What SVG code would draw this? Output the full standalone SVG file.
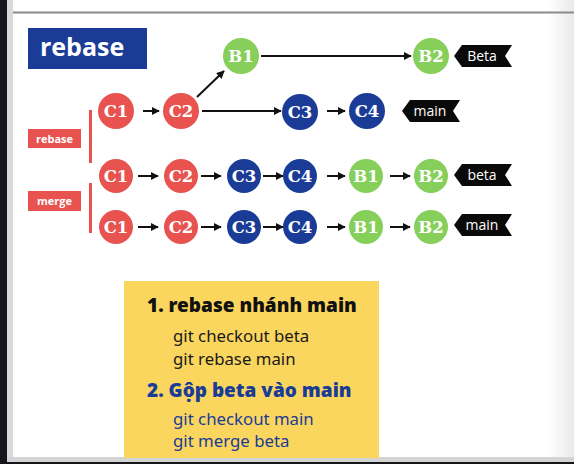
<svg xmlns="http://www.w3.org/2000/svg" width="574" height="464" viewBox="0 0 574 464">
<defs>
<marker id="ah" viewBox="0 0 10 10" refX="9" refY="5" markerWidth="4" markerHeight="4" orient="auto" markerUnits="strokeWidth"><path d="M0,0 L10,5 L0,10 z" fill="#111"/></marker>
<linearGradient id="rg" x1="0" x2="1" y1="0" y2="0"><stop offset="0" stop-color="#fff"/><stop offset="1" stop-color="#e9e9e9"/></linearGradient>
<style>
.r{fill:#e8524f}.b{fill:#1b3c96}.g{fill:#86cf5a}
.nt{font-family:"DejaVu Serif","Liberation Serif",serif;font-weight:bold;font-size:16.5px;fill:#fff;text-anchor:middle}
.tag{fill:#0a0a0a}
.tt{font-family:"Open Sans","Noto Sans",sans-serif;font-size:14px;fill:#fff;text-anchor:middle}
.lbl{font-family:"Open Sans","Noto Sans",sans-serif;font-weight:bold;font-size:11px;fill:#fff;text-anchor:middle}
.con line{stroke:#111;stroke-width:2;marker-end:url(#ah)}
.cmd{font-family:"Noto Sans","Open Sans",sans-serif;font-size:16.8px}
.hd{font-family:"Noto Sans","Open Sans",sans-serif;font-weight:900;font-size:19px}
</style>
</defs>
<rect width="574" height="464" fill="#fff"/>
<rect x="548" y="0" width="26" height="464" fill="url(#rg)"/>
<rect x="0" y="0" width="7" height="464" fill="#15161a"/>
<rect x="7" y="0" width="6" height="464" fill="#d9d9d9"/>
<line x1="13" y1="12.5" x2="574" y2="12.5" stroke="#8a8a8a" stroke-width="2"/>
<rect x="7" y="457" width="567" height="5" fill="#d4d4d4"/>
<rect x="0" y="462" width="574" height="2" fill="#15161a"/>

<g id="title"><rect x="28" y="28" width="119" height="41" fill="#1b3c96"/><text x="40" y="56" font-family="Open Sans,Noto Sans,sans-serif" font-weight="bold" font-size="25" fill="#fff">rebase</text></g>
<g id="lbl-rebase"><rect x="28" y="129" width="53" height="19" fill="#e8524f"/><text class="lbl" x="54.5" y="142.5">rebase</text></g>
<g id="lbl-merge"><rect x="28" y="191" width="53" height="20" fill="#e8524f"/><text class="lbl" x="54.5" y="205">merge</text></g>
<g id="bars"><rect x="89" y="110" width="3" height="53" fill="#e8524f"/><rect x="89" y="183" width="3" height="50" fill="#e8524f"/></g>

<g class="con" id="connectors">
<line x1="261" y1="56" x2="411" y2="56"/>
<line x1="197" y1="97" x2="224" y2="71"/>
<line x1="143" y1="111" x2="159" y2="111"/>
<line x1="202" y1="111" x2="281" y2="111"/>
<line x1="327" y1="111" x2="345" y2="111"/>
<line x1="138" y1="176" x2="158" y2="176"/>
<line x1="201" y1="176" x2="221" y2="176"/>
<line x1="263" y1="176" x2="283" y2="176"/>
<line x1="327" y1="176" x2="345" y2="176"/>
<line x1="390" y1="176" x2="410" y2="176"/>
<line x1="138" y1="227" x2="158" y2="227"/>
<line x1="201" y1="227" x2="221" y2="227"/>
<line x1="263" y1="227" x2="283" y2="227"/>
<line x1="327" y1="227" x2="345" y2="227"/>
<line x1="390" y1="227" x2="410" y2="227"/>
</g>

<g id="r1-B1"><circle class="g" cx="241" cy="56" r="18"/><text class="nt" x="241" y="62">B1</text></g>
<g id="r1-B2"><circle class="g" cx="431" cy="56" r="18"/><text class="nt" x="431" y="62">B2</text></g>
<g id="r2-C1"><circle class="r" cx="116" cy="111" r="18"/><text class="nt" x="116" y="117">C1</text></g>
<g id="r2-C2"><circle class="r" cx="181" cy="111" r="18"/><text class="nt" x="181" y="117">C2</text></g>
<g id="r2-C3"><circle class="b" cx="300" cy="112" r="18"/><text class="nt" x="300" y="118">C3</text></g>
<g id="r2-C4"><circle class="b" cx="367" cy="111" r="18"/><text class="nt" x="367" y="117">C4</text></g>

<g id="r3-C1"><circle class="r" cx="116" cy="176" r="17"/><text class="nt" x="116" y="182">C1</text></g>
<g id="r3-C2"><circle class="r" cx="181" cy="176" r="17"/><text class="nt" x="181" y="182">C2</text></g>
<g id="r3-C3"><circle class="b" cx="244" cy="176" r="17"/><text class="nt" x="244" y="182">C3</text></g>
<g id="r3-C4"><circle class="b" cx="300" cy="176" r="17"/><text class="nt" x="300" y="182">C4</text></g>
<g id="r3-B1"><circle class="g" cx="366" cy="176" r="17"/><text class="nt" x="366" y="182">B1</text></g>
<g id="r3-B2"><circle class="g" cx="431" cy="176" r="17"/><text class="nt" x="431" y="182">B2</text></g>

<g id="r4-C1"><circle class="r" cx="116" cy="227" r="17"/><text class="nt" x="116" y="233">C1</text></g>
<g id="r4-C2"><circle class="r" cx="181" cy="227" r="17"/><text class="nt" x="181" y="233">C2</text></g>
<g id="r4-C3"><circle class="b" cx="244" cy="227" r="17"/><text class="nt" x="244" y="233">C3</text></g>
<g id="r4-C4"><circle class="b" cx="300" cy="227" r="17"/><text class="nt" x="300" y="233">C4</text></g>
<g id="r4-B1"><circle class="g" cx="366" cy="227" r="17"/><text class="nt" x="366" y="233">B1</text></g>
<g id="r4-B2"><circle class="g" cx="431" cy="227" r="17"/><text class="nt" x="431" y="233">B2</text></g>

<g id="tag-Beta"><polygon class="tag" points="454,56 462,45 512,45 505,56 512,67 462,67"/><text class="tt" x="482" y="61">Beta</text></g>
<g id="tag-main1"><polygon class="tag" points="402,111 410,100 460,100 453,111 460,122 410,122"/><text class="tt" x="430" y="116">main</text></g>
<g id="tag-beta"><polygon class="tag" points="454,175 462,164 512,164 505,175 512,186 462,186"/><text class="tt" x="482" y="180">beta</text></g>
<g id="tag-main2"><polygon class="tag" points="454,225 462,214 512,214 505,225 512,236 462,236"/><text class="tt" x="482" y="230">main</text></g>

<g id="notes">
<rect x="124" y="281" width="255" height="177" fill="#fad65e"/>
<text class="hd" x="147" y="312" fill="#111">1. rebase nhánh main</text>
<text class="cmd" x="173" y="342" fill="#1a1a1a">git checkout beta</text>
<text class="cmd" x="173" y="365" fill="#1a1a1a">git rebase main</text>
<text class="hd" x="147" y="397" fill="#1b3c96">2. Gộp beta vào main</text>
<text class="cmd" x="173" y="425" fill="#1b3c96">git checkout main</text>
<text class="cmd" x="173" y="447" fill="#1b3c96">git merge beta</text>
</g>
</svg>
